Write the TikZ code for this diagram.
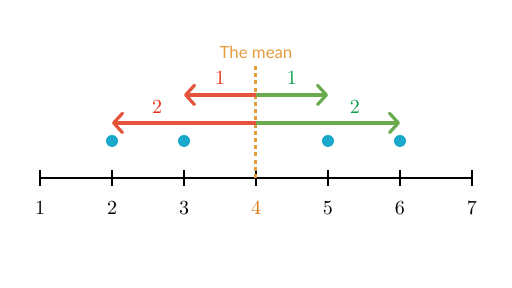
\documentclass[tikz,border=0pt]{standalone}
\usepackage{fontspec}
\newfontfamily\meanfont{Lato}
\usetikzlibrary{arrows.meta,positioning,calc}
\definecolor{devred}{HTML}{E4533B}
\definecolor{devgreen}{HTML}{6AAB4F}
\definecolor{numred}{HTML}{E8321E}
\definecolor{numgreen}{HTML}{0CA04A}
\definecolor{dotblue}{HTML}{1AA9C8}
\definecolor{meanorange}{HTML}{E49C3C}
\definecolor{fourorange}{HTML}{D9700E}
\tikzset{
  nl/axis/.style={line width=1pt},
  nl/tick/.style={line width=1pt},
  nl/num/.style={inner sep=1pt},
  nl/dot/.style={circle, fill=dotblue, inner sep=0pt, minimum size=6pt},
  nl/mean/.style={line width=1.5pt, draw=meanorange, dash pattern=on 2pt off 1.6pt},
  nl/meantext/.style={font=\meanfont\fontsize{8.4}{10}\selectfont, text=meanorange, inner sep=1pt},
  nl/dev/.style={line width=1.6pt, -{Straight Barb[length=4.4pt,width=9.6pt,round,line width=1.6pt]}},
  nl/below/.style={nl/dev, draw=devred},
  nl/above/.style={nl/dev, draw=devgreen},
  nl/devnum/.style={inner sep=1pt}
}

\begin{document}
\begin{tikzpicture}[x=36pt,y=36pt]
  \useasboundingbox (0.444,-1.528) rectangle (7.556,2.472);

  % number line
  \foreach \n in {1,...,7} {
    \coordinate (t\n) at (\n,0);
    \draw[nl/tick] (\n,0.11) -- (\n,-0.11);
  }
  \draw[nl/axis] (t1) -- (t7);
  \foreach \n in {1,2,3,5,6,7}
    \node[nl/num] (n\n) at (\n,-0.417) {$\n$};
  \node[nl/num, text=fourorange] (n4) at (4,-0.417) {$4$};

  % data points
  \foreach \n in {2,3,5,6}
    \node[nl/dot] (d\n) at (\n,0.514) {};

  % the mean
  \coordinate (meantop) at (4,1.556);
  \draw[nl/mean] (meantop) -- (t4);
  \node[nl/meantext] (meanlabel) at (4,1.75) {The mean};

  % distances from the mean
  \coordinate (m1) at (4,1.153);
  \coordinate (m2) at (4,0.764);
  \coordinate (l1) at (3,1.153);
  \coordinate (r1) at (5,1.153);
  \coordinate (l2) at (2,0.764);
  \coordinate (r2) at (6,0.764);
  \draw[nl/below] (m1) -- (l1);
  \draw[nl/above] (m1) -- (r1);
  \draw[nl/below] (m2) -- (l2);
  \draw[nl/above] (m2) -- (r2);

  \node[nl/devnum, text=numred] (dl1) at (3.5,1.39) {$1$};
  \node[nl/devnum, text=numgreen] (dr1) at (4.5,1.39) {$1$};
  \node[nl/devnum, text=numred] (dl2) at (2.625,0.986) {$2$};
  \node[nl/devnum, text=numgreen] (dr2) at (5.375,0.986) {$2$};
\end{tikzpicture}
\end{document}
